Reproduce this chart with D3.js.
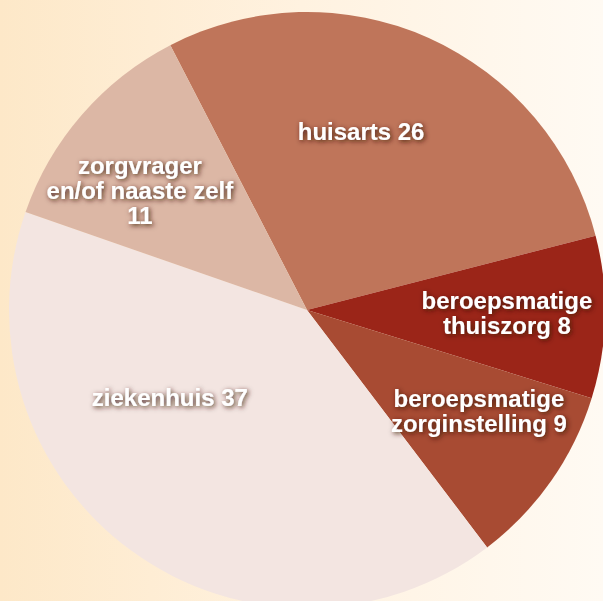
<!DOCTYPE html>
<html>
<head>
<meta charset="utf-8">
<script src="https://cdn.jsdelivr.net/npm/d3@7"></script>
<style>
  html, body { margin: 0; padding: 0; }
  body { width: 603px; height: 601px; overflow: hidden; }
</style>
</head>
<body>
<div id="pie"></div>
<script>
// data
var categories = ["huisarts", "beroepsmatige thuiszorg", "beroepsmatige zorginstelling", "ziekenhuis", "zorgvrager en/of naaste zelf"];
var values = [26, 8, 9, 37, 11];
var labelLines = [
  ["huisarts 26"],
  ["beroepsmatige", "thuiszorg 8"],
  ["beroepsmatige", "zorginstelling 9"],
  ["ziekenhuis 37"],
  ["zorgvrager", "en/of naaste zelf", "11"]
];
var colors = ["#bf755a", "#9b2518", "#a84b33", "#f3e5e1", "#dcb7a5"];

// where the labels sit: fraction of radius and angle nudge (degrees) from the slice middle
var labelRadius = [0.627, 0.671, 0.669, 0.547, 0.69];
var labelTurn = [-7.3, -0.5, -4.6, 21.3, -5.3];

var width = 603, height = 601;
var cx = 307, cy = 310, radius = 298;
var deg = Math.PI / 180;

var svg = d3.select("#pie")
  .append("svg")
    .attr("width", width)
    .attr("height", height);

var defs = svg.append("defs");
var grad = defs.append("linearGradient")
  .attr("id", "bg")
  .attr("x1", "0").attr("y1", "0").attr("x2", "1").attr("y2", "0");
grad.append("stop").attr("offset", "0").attr("stop-color", "#fde8c8");
grad.append("stop").attr("offset", "0.5").attr("stop-color", "#fff2e0");
grad.append("stop").attr("offset", "1").attr("stop-color", "#fffaf3");

var shadow = defs.append("filter")
  .attr("id", "shadow")
  .attr("x", "-20%").attr("y", "-40%").attr("width", "140%").attr("height", "180%");
shadow.append("feDropShadow")
  .attr("dx", 1.5).attr("dy", 1.5)
  .attr("stdDeviation", 2.5)
  .attr("flood-color", "#3a1208")
  .attr("flood-opacity", 0.9);

svg.append("rect")
  .attr("width", width)
  .attr("height", height)
  .attr("fill", "url(#bg)");

var g = svg.append("g")
  .attr("transform", "translate(" + cx + "," + cy + ")");

var start = -27.3 * deg;
var pie = d3.pie()
  .sort(null)
  .startAngle(start)
  .endAngle(start + 2 * Math.PI)
  .value(function(d) { return d; });

var data_ready = pie(values);

var arc = d3.arc()
  .innerRadius(0)
  .outerRadius(radius);

g.selectAll("path")
  .data(data_ready)
  .enter()
  .append("path")
    .attr("d", arc)
    .attr("fill", function(d, i) { return colors[i]; });

// labels
var lineH = 25;
var labels = g.selectAll("text.lbl")
  .data(data_ready)
  .enter()
  .append("text")
    .attr("class", "lbl")
    .attr("text-anchor", "middle")
    .attr("font-family", "'Liberation Sans', Arial, sans-serif")
    .attr("font-weight", "bold")
    .attr("font-size", "24px")
    .attr("fill", "#ffffff")
    .attr("filter", "url(#shadow)")
    .attr("transform", function(d, i) {
      var a = (d.startAngle + d.endAngle) / 2 + labelTurn[i] * deg;
      var r = radius * labelRadius[i];
      return "translate(" + (Math.sin(a) * r) + "," + (-Math.cos(a) * r) + ")";
    });

labels.each(function(d, i) {
  var lines = labelLines[i];
  var t = d3.select(this);
  lines.forEach(function(line, j) {
    t.append("tspan")
      .attr("x", 0)
      .attr("y", (j - (lines.length - 1) / 2) * lineH)
      .attr("dy", "0.35em")
      .text(line);
  });
});
</script>
</body>
</html>
